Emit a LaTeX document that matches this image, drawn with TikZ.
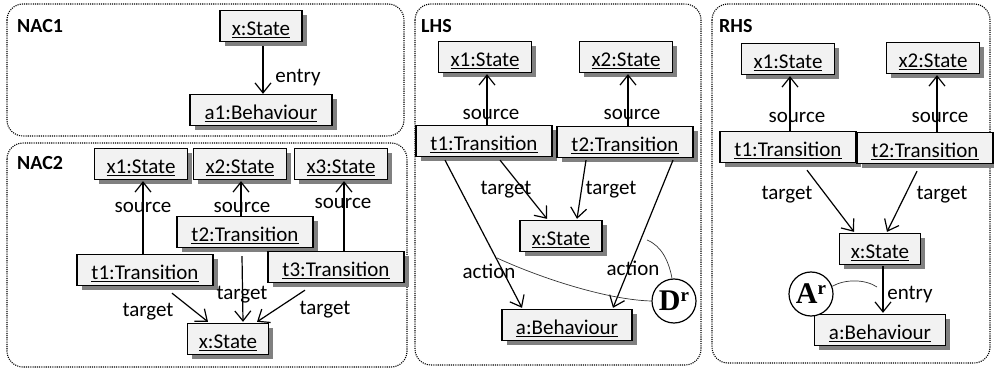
\documentclass[tikz,border=0pt]{standalone}
\usepackage{fontspec}
\setmainfont{Carlito}
\newfontfamily\circfont{Liberation Serif}
\usetikzlibrary{arrows.meta,shadows,calc}
\tikzset{
  frame/.style={draw, line width=1.1pt, dash pattern=on 1.1pt off 1.1pt, rounded corners=16pt},
  ttl/.style={font=\fontsize{20}{22}\selectfont\bfseries, anchor=west, inner sep=0pt},
  obj/.style={draw, line width=1.3pt, fill=black!5, minimum width=#1, minimum height=31pt,
    inner sep=0pt, text height=20pt, text depth=0pt, font=\fontsize{21}{23}\selectfont,
    drop shadow={shadow xshift=4.5pt, shadow yshift=-4.5pt, fill=black!50, opacity=1}},
  lbl/.style={inner sep=0pt, font=\fontsize{21}{23}\selectfont},
  arr/.style={line width=1.2pt, -{Straight Barb[length=10pt,width=16pt,line width=1.2pt]}},
  circ/.style={draw, circle, line width=1.2pt, fill=white, minimum size=44pt, inner sep=0pt,
    font=\circfont\bfseries\fontsize{30}{31}\selectfont},
  thin/.style={line width=0.7pt, black!80}
}
\begin{document}
\begin{tikzpicture}[x=1pt,y=-1pt]
\useasboundingbox (0,0) rectangle (994,371);
% frames
\draw[frame] (7,4) rectangle (404,136);
\draw[frame] (7,143) rectangle (407,367);
\draw[frame] (415,4) rectangle (701,365);
\draw[frame] (712,4) rectangle (990,363);
\node[ttl] (tnac1) at (17,26) {NAC1};
\node[ttl] (tnac2) at (17,163) {NAC2};
\node[ttl] (tlhs) at (421,26) {LHS};
\node[ttl] (trhs) at (719,26) {RHS};

% NAC1
\node[obj=82pt] (n1x) at (261,26) {\underline{x:State}};
\node[obj=142pt] (n1a) at (261,110) {\underline{a1:Behaviour}};
\draw[arr] ([shift={(2,4)}]n1x.south) -- ([shift={(2,0)}]n1a.north)
  node[lbl] (n1e) at (298,78) {entry};

% NAC2
\node[obj=93pt] (n2x1) at (141,164) {\underline{x1:State}};
\node[obj=93pt] (n2x2) at (240,164) {\underline{x2:State}};
\node[obj=93pt] (n2x3) at (341,164) {\underline{x3:State}};
\node[obj=136pt] (n2t2) at (245,232) {\underline{t2:Transition}};
\node[obj=136pt] (n2t1) at (145,270) {\underline{t1:Transition}};
\node[obj=136pt] (n2t3) at (336,267) {\underline{t3:Transition}};
\node[obj=81pt] (n2x) at (228,339) {\underline{x:State}};
\draw[arr] ([shift={(-2,0)}]n2t1.north) -- ([shift={(2,1)}]n2x1.south)
  node[lbl] (n2s1) at (143,207) {source};
\draw[arr] ([shift={(-4,0)}]n2t2.north) -- ([shift={(1,1)}]n2x2.south)
  node[lbl] (n2s2) at (242,207) {source};
\draw[arr] ([shift={(8,0)}]n2t3.north) -- ([shift={(3,1)}]n2x3.south)
  node[lbl] (n2s3) at (343,203) {source};
\draw[arr] ([shift={(27,7)}]n2t1.south) -- ([shift={(-20,-1)}]n2x.north)
  node[lbl] (n2g1) at (148,312) {target};
\draw[arr] ([shift={(-3,8)}]n2t2.south) -- ([shift={(15,-1)}]n2x.north)
  node[lbl] (n2g2) at (242,295) {target};
\draw[arr] ([shift={(-31,7)}]n2t3.south) -- ([shift={(29,-1)}]n2x.north)
  node[lbl] (n2g3) at (325,310) {target};

% LHS
\node[obj=93pt] (lx1) at (485,57) {\underline{x1:State}};
\node[obj=93pt] (lx2) at (626,57) {\underline{x2:State}};
\node[obj=136pt] (lt1) at (484,141) {\underline{t1:Transition}};
\node[obj=136pt] (lt2) at (625,142) {\underline{t2:Transition}};
\node[obj=82pt] (lx) at (561,236) {\underline{x:State}};
\node[obj=130pt] (la) at (567,325) {\underline{a:Behaviour}};
\draw[arr] ([shift={(3,0)}]lt1.north) -- ([shift={(2,1)}]lx1.south)
  node[lbl] (ls1) at (491,114) {source};
\draw[arr] ([shift={(3,0)}]lt2.north) -- ([shift={(2,1)}]lx2.south)
  node[lbl] (ls2) at (632,114) {source};
\draw[arr] ([shift={(16,3)}]lt1.south) -- ([shift={(-14,-1)}]lx.north)
  node[lbl] (lg1) at (506,190) {target};
\draw[arr] ([shift={(-39,2)}]lt2.south) -- ([shift={(16,-1)}]lx.north)
  node[lbl] (lg2) at (611,190) {target};
\draw[arr] ([shift={(-39,3)}]lt1.south) -- ([shift={(-45,-1)}]la.north)
  node[lbl] (la1) at (489,271) {action};
\draw[arr] ([shift={(48,2)}]lt2.south) -- ([shift={(46,-1)}]la.north)
  node[lbl] (la2) at (633,268) {action};
\node[circ] (dr) at (674,301) {D\raisebox{0.32em}{\fontsize{19}{19}\selectfont r}};
\coordinate (dc1) at (497,258);
\coordinate (dc2) at (647,240);
\draw[thin] (dr.180) .. controls (610,300) and (545,280) .. (dc1);
\draw[thin] (dr.95) .. controls (669,262) and (662,246) .. (dc2);

% RHS
\node[obj=93pt] (rx1) at (788,59) {\underline{x1:State}};
\node[obj=93pt] (rx2) at (933,58) {\underline{x2:State}};
\node[obj=136pt] (rt1) at (788,147) {\underline{t1:Transition}};
\node[obj=136pt] (rt2) at (925,148) {\underline{t2:Transition}};
\node[obj=81pt] (rx) at (880,249) {\underline{x:State}};
\node[obj=131pt] (ra) at (880,330) {\underline{a:Behaviour}};
\draw[arr] ([shift={(2,0)}]rt1.north) -- ([shift={(2,1)}]rx1.south)
  node[lbl] (rs1) at (797,117) {source};
\draw[arr] ([shift={(12,0)}]rt2.north) -- ([shift={(4,1)}]rx2.south)
  node[lbl] (rs2) at (940,117) {source};
\draw[arr] ([shift={(19,7)}]rt1.south) -- ([shift={(-26,-1)}]rx.north)
  node[lbl] (rg1) at (787,195) {target};
\draw[arr] ([shift={(-8,7)}]rt2.south) -- ([shift={(7,-1)}]rx.north)
  node[lbl] (rg2) at (942,195) {target};
\draw[arr] ([shift={(3,1)}]rx.south) -- ([shift={(3,-1)}]ra.north)
  node[lbl] (re) at (910,295) {entry};
\node[circ] (ar) at (811,294) {A\raisebox{0.32em}{\fontsize{19}{19}\selectfont r}};
\coordinate (ac) at (877,287);
\draw[thin] (ar.20) .. controls (845,279) and (865,279) .. (ac);
\end{tikzpicture}
\end{document}
